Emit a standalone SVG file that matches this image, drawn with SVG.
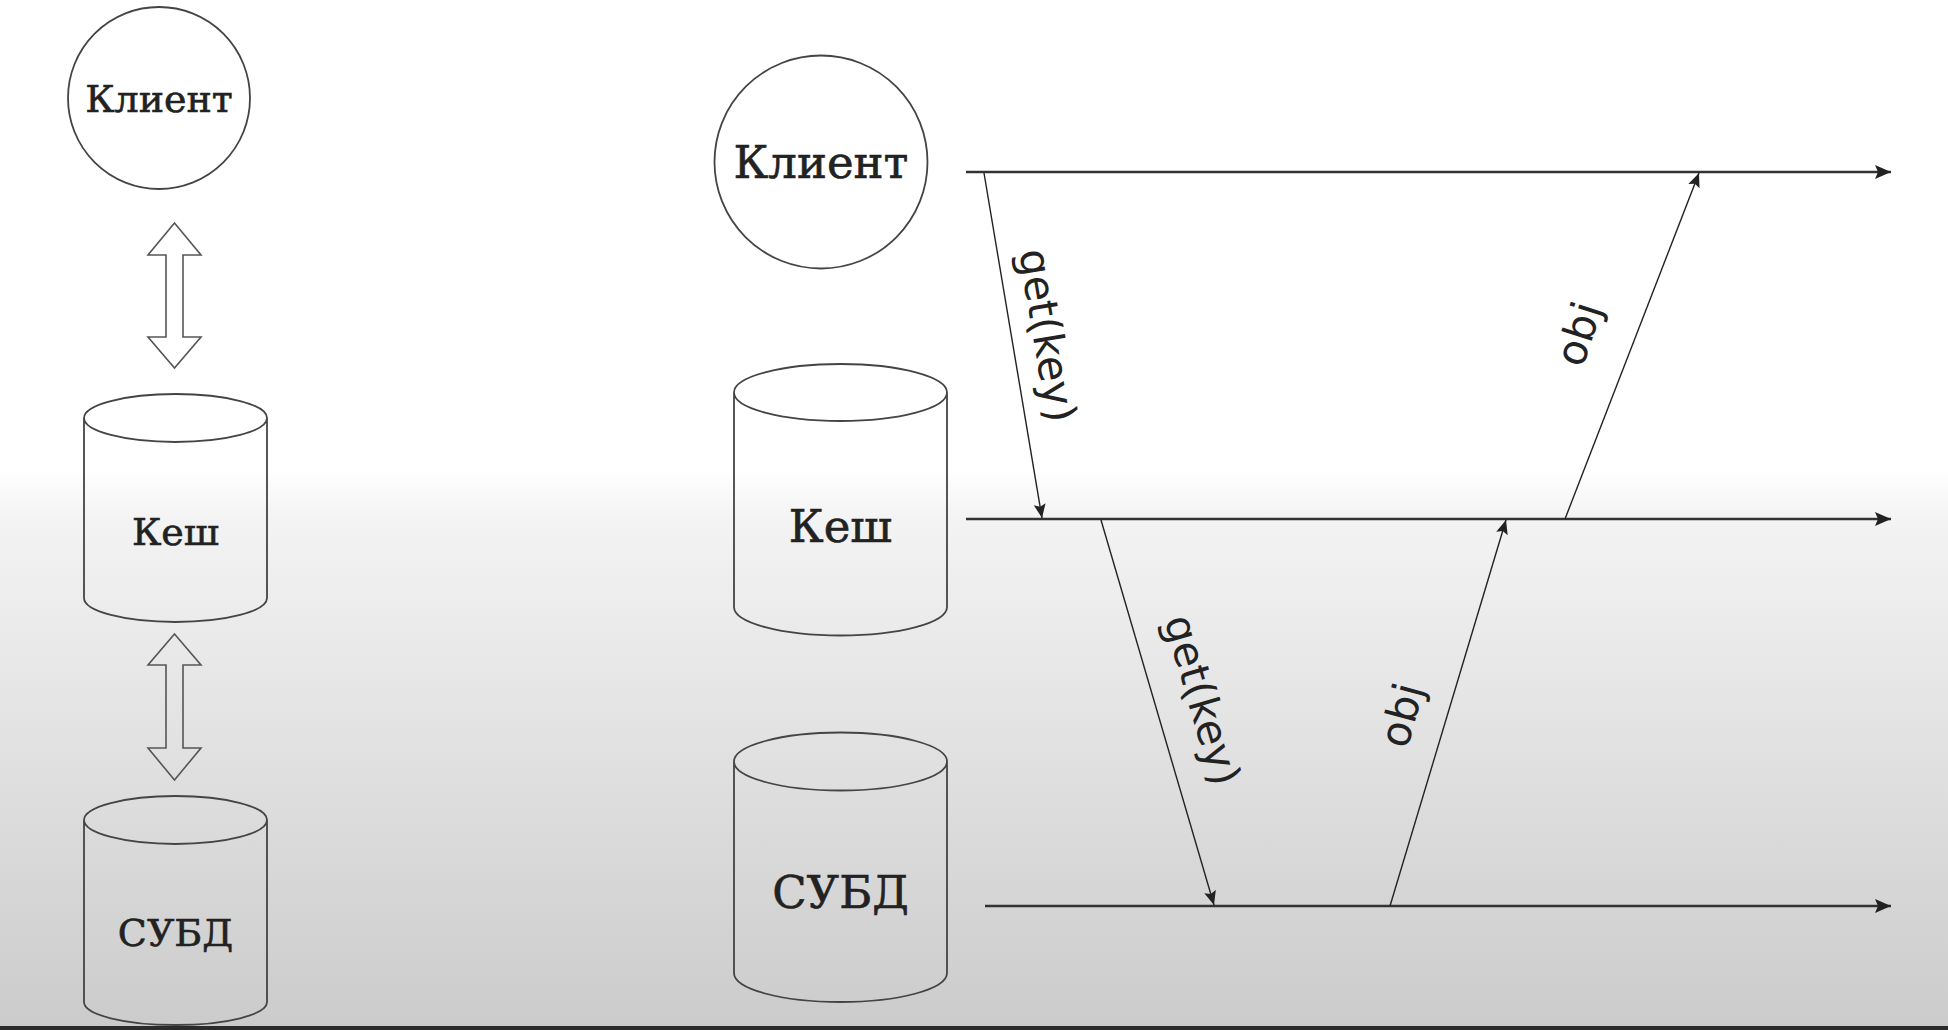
<svg xmlns="http://www.w3.org/2000/svg" width="1948" height="1030" viewBox="0 0 1948 1030">
  <defs>
    <linearGradient id="bg" gradientUnits="userSpaceOnUse" x1="0" y1="0" x2="0" y2="1030">
      <stop offset="0" stop-color="#ffffff"/>
      <stop offset="0.455" stop-color="#ffffff"/>
      <stop offset="0.505" stop-color="#f3f3f3"/>
      <stop offset="1" stop-color="#cbcbcb"/>
    </linearGradient>
    <marker id="headBig" markerUnits="userSpaceOnUse" markerWidth="20" markerHeight="16" refX="16" refY="7" orient="auto">
      <path d="M0,0 L16,7 L0,14 L3,7 z" fill="#222"/>
    </marker>
    <marker id="headSmall" markerUnits="userSpaceOnUse" markerWidth="16" markerHeight="14" refX="14" refY="6" orient="auto">
      <path d="M0,0 L14,6 L0,12 L2.5,6 z" fill="#222"/>
    </marker>
  </defs>
  <style>
    .shape { fill: none; stroke: #444; stroke-width: 1.8; }
    .dbl { fill: none; stroke: #555; stroke-width: 1.6; }
    .node { font-family: "DejaVu Serif", "Liberation Serif", serif; fill: #222; stroke: #222; stroke-width: 0.6; text-anchor: middle; }
    .timeline { stroke: #333; stroke-width: 2.4; fill: none; marker-end: url(#headBig); }
    .msg { stroke: #222; stroke-width: 1.4; fill: none; marker-end: url(#headSmall); }
    .lbl { font-family: "DejaVu Sans", "Liberation Sans", sans-serif; font-size: 42px; fill: #222; text-anchor: middle; }
  </style>

  <rect x="0" y="0" width="1948" height="1030" fill="url(#bg)"/>
  <rect x="0" y="1026" width="1948" height="4" fill="#2b2b2b"/>

  <!-- Left column nodes -->
  <g id="left-client">
    <circle class="shape" cx="159" cy="98" r="91"/>
    <text class="node" x="159" y="112" font-size="38">Клиент</text>
  </g>
  <g id="left-cache">
    <path class="shape" d="M84,418 A91.5,24 0 0 1 267,418 A91.5,24 0 0 1 84,418 Z M84,418 L84,598 A91.5,24 0 0 0 267,598 L267,418"/>
    <text class="node" x="175.5" y="545" font-size="38">Кеш</text>
  </g>
  <g id="left-db">
    <path class="shape" d="M84,820 A91.5,24 0 0 1 267,820 A91.5,24 0 0 1 84,820 Z M84,820 L84,1002 A91.5,23 0 0 0 267,1002 L267,820"/>
    <text class="node" x="175.5" y="946" font-size="38">СУБД</text>
  </g>

  <!-- Right column nodes -->
  <g id="right-client">
    <circle class="shape" cx="821" cy="162" r="106.5"/>
    <text class="node" x="821" y="178" font-size="45">Клиент</text>
  </g>
  <g id="right-cache">
    <path class="shape" d="M734,392.5 A106.5,28.5 0 0 1 947,392.5 A106.5,28.5 0 0 1 734,392.5 Z M734,392.5 L734,607 A106.5,28.5 0 0 0 947,607 L947,392.5"/>
    <text class="node" x="840.5" y="542" font-size="45">Кеш</text>
  </g>
  <g id="right-db">
    <path class="shape" d="M734,761.5 A106.5,29 0 0 1 947,761.5 A106.5,29 0 0 1 734,761.5 Z M734,761.5 L734,973 A106.5,29 0 0 0 947,973 L947,761.5"/>
    <text class="node" x="840.5" y="908" font-size="45">СУБД</text>
  </g>

  <!-- Connectors -->
  <g id="connectors">
    <polygon class="dbl" points="174.5,223 201,255 183,255 183,337 201,337 174.5,368 148,337 166,337 166,255 148,255"/>
    <polygon class="dbl" points="174.5,634 201,665 183,665 183,748 201,748 174.5,780 148,748 166,748 166,665 148,665"/>

    <line class="timeline" x1="966" y1="172" x2="1891" y2="172"/>
    <line class="timeline" x1="966" y1="519" x2="1891" y2="519"/>
    <line class="timeline" x1="985" y1="906" x2="1891" y2="906"/>

    <line class="msg" x1="984" y1="173" x2="1042" y2="518"/>
    <line class="msg" x1="1565" y1="519" x2="1699" y2="173"/>
    <line class="msg" x1="1101" y1="520" x2="1214" y2="905"/>
    <line class="msg" x1="1390" y1="906" x2="1506" y2="520"/>
  </g>

  <g id="labels">
    <text class="lbl" transform="translate(1044,336) rotate(80.5)" x="0" y="11">get(key)</text>
    <text class="lbl" transform="translate(1582,335) rotate(-72)" x="0" y="11">obj</text>
    <text class="lbl" transform="translate(1199,701) rotate(73.6)" x="0" y="11">get(key)</text>
    <text class="lbl" transform="translate(1405,716) rotate(-75)" x="0" y="11">obj</text>
  </g>
</svg>
